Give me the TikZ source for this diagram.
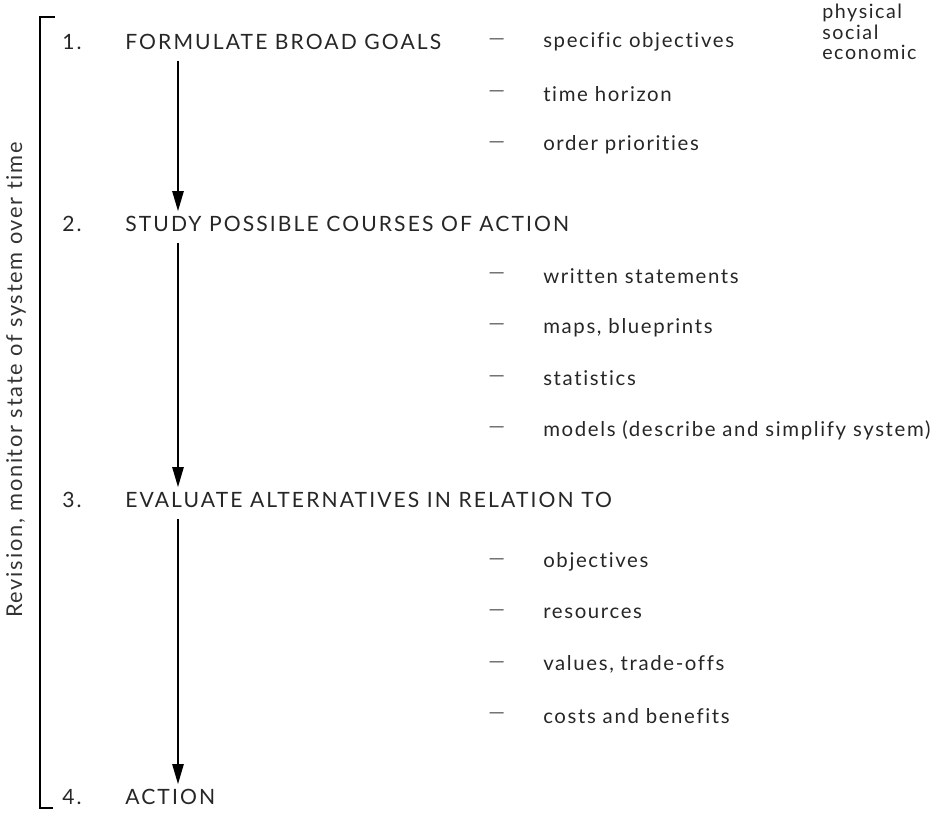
\documentclass[tikz,border=0pt]{standalone}
\usepackage{fontspec}
\setmainfont{Lato}
\newfontfamily\stepfont{Lato}[LetterSpace=10,Ligatures=NoCommon]
\newfontfamily\itemfont{Lato}[LetterSpace=8,Ligatures=NoCommon]
\usetikzlibrary{arrows.meta}

\tikzset{
	stepnum/.style={anchor=west, inner sep=0pt, text=black!85, font=\stepfont\fontsize{15}{17}\selectfont},
	steptitle/.style={anchor=west, inner sep=0pt, text=black!85, font=\stepfont\fontsize{15}{17}\selectfont},
	subitem/.style={anchor=west, inner sep=0pt, text=black!85, font=\itemfont\fontsize{14.5}{16}\selectfont},
	dashmark/.style={anchor=west, inner sep=0pt, text=black!60, font=\fontsize{15}{17}\selectfont},
	flow/.style={-{Triangle[length=5mm,width=2.8mm]}, line width=1.3pt, shorten <=0.27cm, shorten >=0.12cm},
}

\begin{document}
\begin{tikzpicture}
		\useasboundingbox (0,0) rectangle (23.375,20.35);

		% bracket on the left with its label
		\draw[line width=1.3pt] (1.375,19.925) -- (1,19.925) -- (1,0.15) -- (1.325,0.15);
		\node[rotate=90, inner sep=0pt, text=black!80, font=\itemfont\fontsize{15.5}{17}\selectfont] (rev) at (0.4,10.85) {Revision, monitor state of system over time};

		% the four steps
		\node[stepnum] (n1) at (1.55,19.3) {1.};
		\node[stepnum] (n2) at (1.55,14.75) {2.};
		\node[stepnum] (n3) at (1.55,7.85) {3.};
		\node[stepnum] (n4) at (1.55,0.425) {4.};
		\node[steptitle] (t1) at (3.125,19.3) {FORMULATE BROAD GOALS};
		\node[steptitle] (t2) at (3.125,14.75) {STUDY POSSIBLE COURSES OF ACTION};
		\node[steptitle] (t3) at (3.125,7.85) {EVALUATE ALTERNATIVES IN RELATION TO};
		\node[steptitle] (t4) at (3.125,0.425) {ACTION};

		\draw[flow] ([xshift=1.325cm]t1.south west) -- ([xshift=1.325cm]t2.north west);
		\draw[flow] ([xshift=1.325cm]t2.south west) -- ([xshift=1.325cm]t3.north west);
		\draw[flow] ([xshift=1.325cm]t3.south west) -- ([xshift=1.325cm]t4.north west);

		% sub-items of each step
		\foreach \txt [count=\i] in {specific objectives, time horizon, order priorities} {
			\node[dashmark] (d1-\i) at (12.2, 19.3-1.29*\i+1.29) {—};
			\node[subitem] (s1-\i) at (13.575, 19.3-1.29*\i+1.29) {\txt};
		}
		\foreach \txt [count=\i] in {written statements, {maps, blueprints}, statistics, models (describe and simplify system)} {
			\node[dashmark] (d2-\i) at (12.2, 13.45-1.283*\i+1.283) {—};
			\node[subitem] (s2-\i) at (13.575, 13.45-1.283*\i+1.283) {\txt};
		}
		\foreach \txt [count=\i] in {objectives, resources, {values, trade-offs}, costs and benefits} {
			\node[dashmark] (d3-\i) at (12.2, 6.3-1.283*\i+1.283) {—};
			\node[subitem] (s3-\i) at (13.575, 6.3-1.283*\i+1.283) {\txt};
		}

		\node[subitem, align=left, font=\itemfont\fontsize{14}{14.5}\selectfont] (kinds) at (20.55,19.55) {physical\\social\\economic};
	\end{tikzpicture}
\end{document}
